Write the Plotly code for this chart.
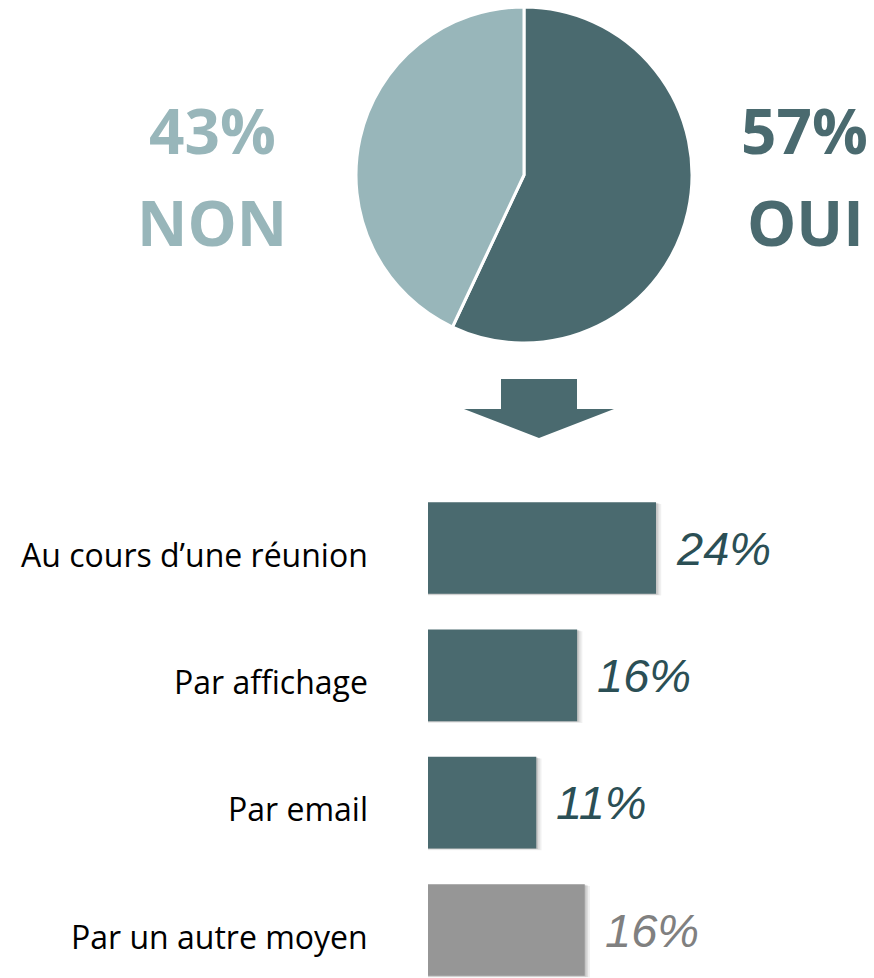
import plotly.graph_objects as go

# ---- data ----
pie_labels = ["OUI", "NON"]
pie_values = [57, 43]
pie_colors = ["#4a6a6f", "#98b6ba"]

bar_categories = ["Au cours d’une réunion", "Par affichage", "Par email", "Par un autre moyen"]
bar_values = [24, 15.7, 11.4, 16.5]
bar_texts = ["24%", "16%", "11%", "16%"]
bar_colors = ["#4a6a6f", "#4a6a6f", "#4a6a6f", "#969696"]
bar_text_colors = ["#2b4f55", "#2b4f55", "#2b4f55", "#808080"]

W, H = 874, 978

fig = go.Figure()

# pie
fig.add_trace(go.Pie(
    labels=pie_labels, values=pie_values, sort=False, direction="clockwise", rotation=0,
    marker=dict(colors=pie_colors, line=dict(color="white", width=3)),
    textinfo="none", hoverinfo="label+percent", showlegend=False,
    domain=dict(x=[356 / W, 692 / W], y=[1 - 343 / H, 1 - 7 / H]),
))

# bar shadows
for off, alpha in [(0.55, 0.06), (0.35, 0.08), (0.18, 0.10)]:
    fig.add_trace(go.Bar(
        x=[v + off for v in bar_values], y=list(range(len(bar_categories))), orientation="h",
        marker=dict(color=f"rgba(0,0,0,{alpha})", line=dict(width=0)),
        width=0.72, offset=-0.36 + off * 0.025, hoverinfo="skip", showlegend=False,
    ))

fig.add_trace(go.Bar(
    x=bar_values, y=list(range(len(bar_categories))), orientation="h",
    marker=dict(color=bar_colors, line=dict(width=0)),
    width=0.72, offset=-0.36, showlegend=False,
    hovertext=bar_categories, hoverinfo="text+x",
))

px_per_unit = 9.5
x0_px = 428
fig.update_layout(
    width=W, height=H, margin=dict(l=0, r=0, t=0, b=0),
    paper_bgcolor="white", plot_bgcolor="white", barmode="overlay",
    xaxis=dict(domain=[x0_px / W, 1], range=[0, (W - x0_px) / px_per_unit],
               visible=False, fixedrange=True),
    yaxis=dict(domain=[0, 1 - 470 / H],
               range=[3 + 48 / 127.33, (470 - 548) / 127.33],
               visible=False, fixedrange=True),
)

# category labels
for i, cat in enumerate(bar_categories):
    fig.add_annotation(x=367 / W, y=i, xref="paper", yref="y", text=cat, showarrow=False,
                       xanchor="right", yanchor="middle", yshift=-6, xshift=3,
                       font=dict(family="Open Sans", size=32, color="#000000"))

# value labels
for i, (v, t, c) in enumerate(zip(bar_values, bar_texts, bar_text_colors)):
    fig.add_annotation(x=v, y=i, xref="x", yref="y", text=t, showarrow=False,
                       xanchor="left", yanchor="middle", xshift=18,
                       font=dict(family="Liberation Sans", size=47, color=c, style="italic"))

# big pie labels
big = dict(family="Open Sans", size=62, weight="bold")
for txt, xc, yc, col in [("43%", 212, 130, pie_colors[1]), ("NON", 212, 222, pie_colors[1]),
                         ("57%", 804, 130, pie_colors[0]), ("OUI", 805, 222, pie_colors[0])]:
    fig.add_annotation(x=xc / W, y=1 - yc / H, xref="paper", yref="paper", text=txt,
                       showarrow=False, xanchor="center", yanchor="middle",
                       font=dict(color=col, **big))

# arrow
def P(x, y):
    return f"{x / W:.5f},{1 - y / H:.5f}"
arrow_path = ("M " + P(501, 379) + " L " + P(577, 379) + " L " + P(577, 409) + " L " + P(614, 409)
              + " L " + P(539, 438) + " L " + P(464, 409) + " L " + P(501, 409) + " Z")
fig.add_shape(type="path", path=arrow_path, xref="paper", yref="paper",
              fillcolor=pie_colors[0], line=dict(width=0))

fig.write_html("out.html", config={"displayModeBar": False},
               post_script="document.body.style.margin='0';document.body.style.overflow='hidden';")
